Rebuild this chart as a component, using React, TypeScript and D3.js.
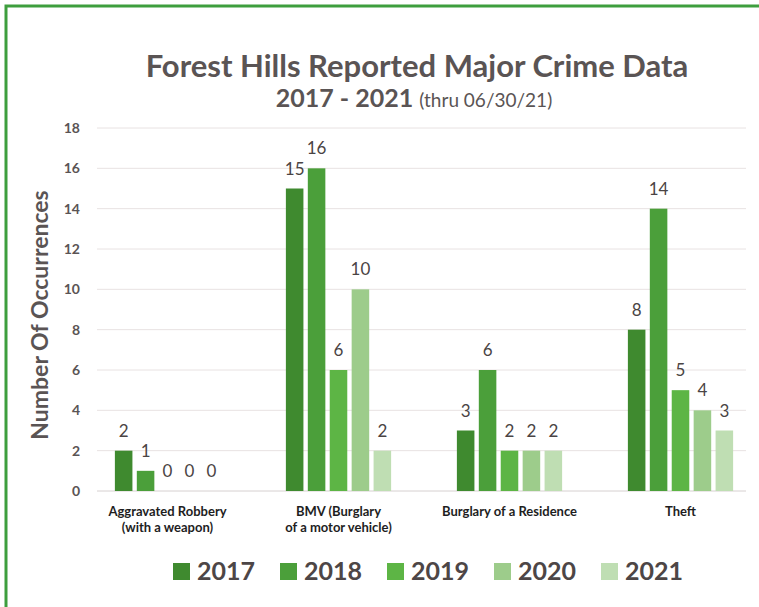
import React, { useRef, useEffect } from 'react';
import * as d3 from 'd3';

const categories = [
  ['Aggravated Robbery', '(with a weapon)'],
  ['BMV (Burglary', 'of a motor vehicle)'],
  ['Burglary of a Residence'],
  ['Theft'],
];
const years = ['2017', '2018', '2019', '2020', '2021'];
const values2017 = [2, 15, 3, 8];
const values2018 = [1, 16, 6, 14];
const values2019 = [0, 6, 2, 5];
const values2020 = [0, 10, 2, 4];
const values2021 = [0, 2, 2, 3];
const yTicks = [0, 2, 4, 6, 8, 10, 12, 14, 16, 18];

const series = [values2017, values2018, values2019, values2020, values2021];
const colors = ['#3f8a2f', '#4b9f3a', '#5db545', '#9dcc8b', '#bfdeb3'];

const App: React.FC = () => {
  const svgRef = useRef<SVGSVGElement | null>(null);

  useEffect(() => {
    if (!svgRef.current) return;
    const W = 759;
    const H = 607;
    const svg = d3.select(svgRef.current);
    svg.selectAll('*').remove();
    svg.attr('width', W).attr('height', H);

    svg.append('rect').attr('width', W).attr('height', H).attr('fill', '#ffffff');

    // green frame
    svg
      .append('rect')
      .attr('x', 6)
      .attr('y', 6)
      .attr('width', W + 10)
      .attr('height', H + 10)
      .attr('fill', 'none')
      .attr('stroke', '#3e9e3e')
      .attr('stroke-width', 3);

    const textColor = '#5a5454';

    // title
    svg
      .append('text')
      .attr('x', 417)
      .attr('y', 77)
      .attr('text-anchor', 'middle')
      .attr('font-family', 'Lato')
      .attr('font-weight', 'bold')
      .attr('font-size', 31)
      .attr('fill', textColor)
      .text('Forest Hills Reported Major Crime Data');

    const sub = svg
      .append('text')
      .attr('x', 414)
      .attr('y', 107)
      .attr('text-anchor', 'middle')
      .attr('font-family', 'Lato')
      .attr('fill', textColor);
    sub.append('tspan').attr('font-weight', 'bold').attr('font-size', 25).text('2017 - 2021 ');
    sub.append('tspan').attr('font-size', 19).text('(thru 06/30/21)');

    // scales
    const x0 = d3
      .scaleBand<number>()
      .domain(d3.range(categories.length))
      .range([82, 766])
      .padding(0);
    const x1 = d3.scaleBand<number>().domain(d3.range(years.length)).range([0, 114]).padding(0.2);
    const y = d3.scaleLinear().domain([0, 18]).range([491, 128]);

    // gridlines
    svg
      .append('g')
      .selectAll('line')
      .data(yTicks)
      .enter()
      .append('line')
      .attr('x1', 97)
      .attr('x2', 746)
      .attr('y1', (d) => y(d))
      .attr('y2', (d) => y(d))
      .attr('stroke', (d) => (d === 0 ? '#d6d0d0' : '#e8e2e2'))
      .attr('stroke-width', 1);

    // y tick labels
    svg
      .append('g')
      .selectAll('text')
      .data(yTicks)
      .enter()
      .append('text')
      .attr('x', 80)
      .attr('y', (d) => y(d) + 5)
      .attr('text-anchor', 'end')
      .attr('font-family', 'Lato')
      .attr('font-weight', 'bold')
      .attr('font-size', 14)
      .attr('fill', '#5a5454')
      .text((d) => d);

    // y axis title
    svg
      .append('text')
      .attr('transform', 'translate(48, 315) rotate(-90)')
      .attr('text-anchor', 'middle')
      .attr('font-family', 'Lato')
      .attr('font-weight', 'bold')
      .attr('font-size', 23)
      .attr('fill', textColor)
      .text('Number Of Occurrences');

    // bars
    const groupStart = (ci: number) => x0(ci)! + x0.bandwidth() / 2 - 57;
    series.forEach((vals, si) => {
      const g = svg.append('g');
      g.selectAll('rect')
        .data(vals)
        .enter()
        .append('rect')
        .attr('x', (_, ci) => groupStart(ci) + x1(si)!)
        .attr('y', (d) => y(d))
        .attr('width', x1.bandwidth())
        .attr('height', (d) => y(0) - y(d))
        .attr('fill', colors[si]);
      g.selectAll('text')
        .data(vals)
        .enter()
        .append('text')
        .attr('x', (_, ci) => groupStart(ci) + x1(si)! + x1.bandwidth() / 2)
        .attr('y', (d) => y(d) - 14)
        .attr('text-anchor', 'middle')
        .attr('font-family', 'Lato')
        .attr('font-size', 17)
        .attr('fill', '#4a4444')
        .text((d) => d);
    });

    // category labels
    categories.forEach((lines, ci) => {
      const cx = x0(ci)! + x0.bandwidth() / 2;
      const t = svg
        .append('text')
        .attr('text-anchor', 'middle')
        .attr('font-family', "'Liberation Sans Narrow', 'Lato'")
        .attr('font-weight', 'bold')
        .attr('font-size', 13)
        .attr('fill', '#1e1e1e');
      lines.forEach((line, li) => {
        t.append('tspan')
          .attr('x', cx)
          .attr('y', 516 + li * 16)
          .text(line);
      });
    });

    // legend
    const legend = svg.append('g');
    years.forEach((yr, i) => {
      const lx = 173 + i * 107;
      legend
        .append('rect')
        .attr('x', lx)
        .attr('y', 563)
        .attr('width', 17)
        .attr('height', 17)
        .attr('fill', colors[i]);
      legend
        .append('text')
        .attr('x', lx + 24)
        .attr('y', 580)
        .attr('font-family', 'Lato')
        .attr('font-weight', 'bold')
        .attr('font-size', 25)
        .attr('fill', '#4d4646')
        .text(yr);
    });
  }, []);

  return <svg ref={svgRef} style={{ position: 'absolute', left: 0, top: 0 }} />;
};

export default App;
